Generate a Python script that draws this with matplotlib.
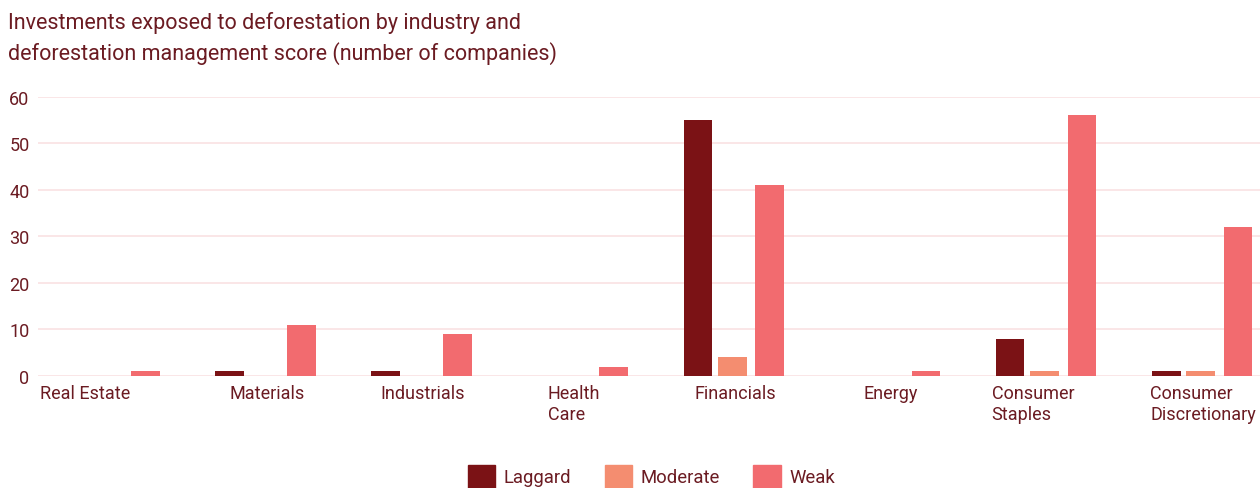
import matplotlib.pyplot as plt
import matplotlib.transforms as mtrans
import numpy as np
from matplotlib.patches import Patch

plt.rcParams['font.family'] = ['Roboto', 'DejaVu Sans']

categories = ['Real Estate', 'Materials', 'Industrials', 'Health\nCare', 'Financials',
              'Energy', 'Consumer\nStaples', 'Consumer\nDiscretionary']
laggard = [0, 1, 1, 0, 55, 0, 8, 1]
moderate = [0, 0, 0, 0, 4, 0, 1, 1]
weak = [1, 11, 9, 2, 41, 1, 56, 32]

c_lag = '#7B1215'
c_mod = '#F48D70'
c_weak = '#F26B6F'
txt = '#6B1B22'
grid = '#F9E1E3'

fig = plt.figure(figsize=(12.6, 4.89), dpi=100)
ax = fig.add_axes([0.030, 0.229, 0.970, 0.571])

x = np.arange(len(categories))
w = 0.185
ax.bar(x - 0.237, laggard, width=w, color=c_lag, zorder=3)
ax.bar(x - 0.015, moderate, width=w, color=c_mod, zorder=3)
ax.bar(x + 0.224, weak, width=w, color=c_weak, zorder=3)

ax.set_xlim(-0.468, 7.365)
ax.set_ylim(0, 60)
ax.set_yticks([0, 10, 20, 30, 40, 50, 60])
ax.yaxis.grid(True, color=grid, linewidth=1.2, zorder=0)
ax.set_axisbelow(True)
for s in ax.spines.values():
    s.set_visible(False)
ax.tick_params(axis='both', length=0, colors=txt, labelsize=13)
ax.tick_params(axis='y', pad=6)
ax.tick_params(axis='x', pad=6)
ax.set_xticks(x)
ax.set_xticklabels(categories, va='top', multialignment='left')

# nudge a couple of labels like the original layout
shifts = {0: -26, 6: -14, 3: -5}
for i, lab in enumerate(ax.get_xticklabels()):
    if i in shifts:
        lab.set_transform(lab.get_transform() +
                          mtrans.ScaledTranslation(shifts[i] / 100, 0, fig.dpi_scale_trans))

fig.text(0.006, 0.975, 'Investments exposed to deforestation by industry and\n'
         'deforestation management score (number of companies)',
         ha='left', va='top', fontsize=15.5, color=txt, linespacing=1.42)

handles = [Patch(color=c_lag, label='Laggard'),
           Patch(color=c_mod, label='Moderate'),
           Patch(color=c_weak, label='Weak')]
leg = fig.legend(handles=handles, loc='center', bbox_to_anchor=(0.517, 0.024),
                 ncol=3, frameon=False, fontsize=13.3, handlelength=1.5,
                 handleheight=1.5, columnspacing=1.8, handletextpad=0.45)
for t in leg.get_texts():
    t.set_color(txt)

fig.savefig('out.png', dpi=100)
